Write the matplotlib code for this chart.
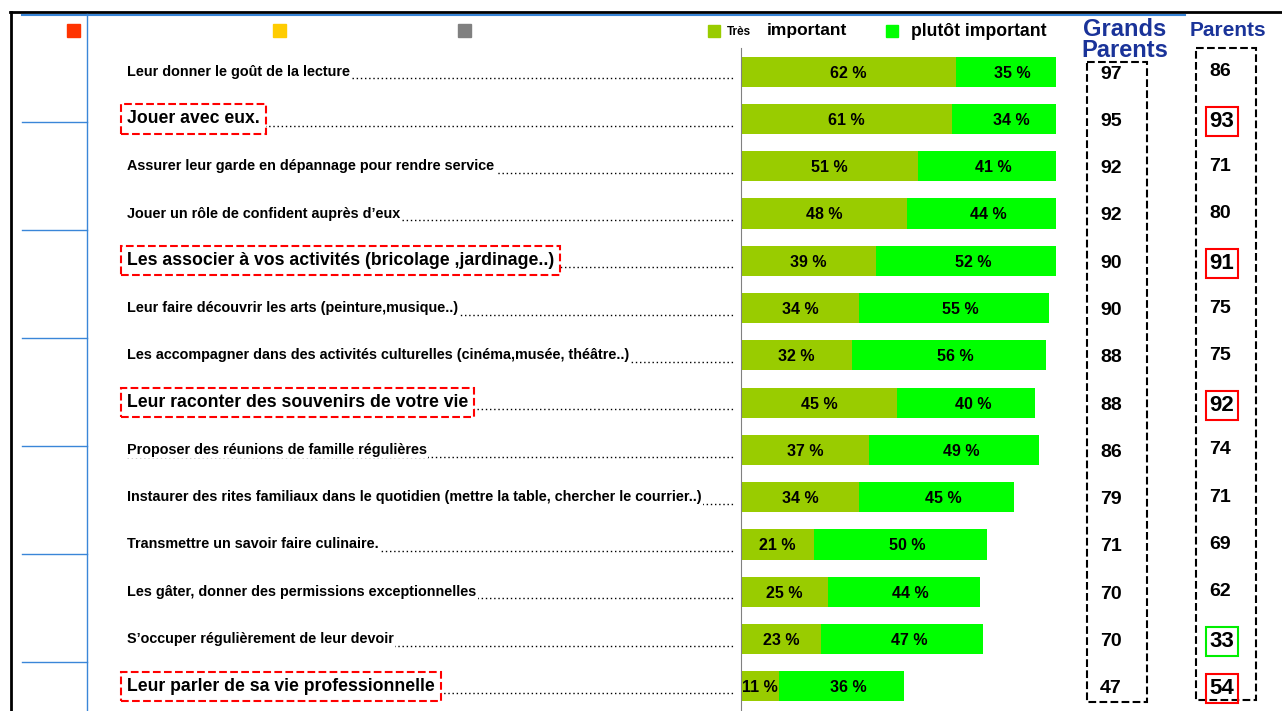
#grands parents vs parents : importance des roles
import numpy as np
import matplotlib.pyplot as plt
from matplotlib.transforms import blended_transform_factory
from matplotlib.patches import Rectangle

plt.rcParams['font.family'] = ['Liberation Sans', 'DejaVu Sans']

#data
labels = ["Leur donner le goût de la lecture",
          "Jouer avec eux.",
          "Assurer leur garde en dépannage pour rendre service",
          "Jouer un rôle de confident auprès d\u2019eux",
          "Les associer à vos activités (bricolage ,jardinage..)",
          "Leur faire découvrir les arts (peinture,musique..)",
          "Les accompagner dans des activités culturelles (cinéma,musée, théâtre..)",
          "Leur raconter des souvenirs de votre vie",
          "Proposer des réunions de famille régulières",
          "Instaurer des rites familiaux dans le quotidien (mettre la table, chercher le courrier..)",
          "Transmettre un savoir faire culinaire.",
          "Les gâter, donner des permissions exceptionnelles",
          "S\u2019occuper régulièrement de leur devoir",
          "Leur parler de sa vie professionnelle"]
tres_important = [62, 61, 51, 48, 39, 34, 32, 45, 37, 34, 21, 25, 23, 11]
plutot_important = [35, 34, 41, 44, 52, 55, 56, 40, 49, 45, 50, 44, 47, 36]
grands_parents = [97, 95, 92, 92, 90, 90, 88, 88, 86, 79, 71, 70, 70, 47]
parents = [86, 93, 71, 80, 91, 75, 75, 92, 74, 71, 69, 62, 33, 54]
highlighted = [1, 4, 7, 13]
parent_boxes = {1: 'red', 4: 'red', 7: 'red', 12: '#00ee00', 13: 'red'}

W, H = 1282, 711
fig = plt.figure(figsize=(W / 100, H / 100), dpi=100)

#overlay in pixel coords for frame, labels, columns
ov = fig.add_axes([0, 0, 1, 1], zorder=0)
ov.set_xlim(0, W)
ov.set_ylim(H, 0)
ov.axis('off')

#bar axes
ax = fig.add_axes([741 / W, 1 - 710 / H, (1056 - 741) / W, (710 - 48) / H], zorder=1)
ax.patch.set_alpha(0)
y = np.arange(len(labels))
ax.barh(y, tres_important, height=0.64, color='#99cc00')
ax.barh(y, plutot_important, left=tres_important, height=0.64, color='#00ff00')
ax.set_xlim(0, 91)
ax.set_ylim(13.5, -0.5)
for s in ['top', 'right', 'bottom']:
    ax.spines[s].set_visible(False)
ax.spines['left'].set_color('#808080')
ax.set_xticks([])
ax.set_yticks([])

for i in range(len(labels)):
    t = tres_important[i]
    p = plutot_important[i]
    ax.text(t / 2, i + 0.03, f'{t} %', ha='center', va='center', fontsize=11.5, fontweight='bold')
    ax.text((t + min(t + p, 91)) / 2 + 2, i + 0.03, f'{p} %', ha='center', va='center',
            fontsize=11.5, fontweight='bold')

trans = blended_transform_factory(ov.transData, ax.transData)

#labels with dotted leaders
for i, lab in enumerate(labels):
    ov.plot([127, 733], [i + 0.14, i + 0.14], transform=trans, color='black',
            lw=1, ls=(0, (1, 2)), zorder=1)
    if i in highlighted:
        ov.text(127, i, lab, transform=trans, fontsize=12.7, fontweight='bold', va='center', zorder=3,
                bbox=dict(facecolor='white', edgecolor='red', ls='--', lw=1.5, boxstyle='square,pad=0.35'))
    else:
        ov.text(127, i, lab, transform=trans, fontsize=10.4, fontweight='bold', va='center', zorder=3,
                bbox=dict(facecolor='white', edgecolor='none', boxstyle='square,pad=0.1'))

#grands parents / parents columns
for i in range(len(labels)):
    ov.text(1111, i + 0.05, str(grands_parents[i]), transform=trans, ha='center', va='center',
            fontsize=14, fontweight='bold')
    if i in parent_boxes:
        ov.text(1222, i + 0.05, str(parents[i]), transform=trans, ha='center', va='center',
                fontsize=16, fontweight='bold',
                bbox=dict(facecolor='none', edgecolor=parent_boxes[i], lw=1.5, boxstyle='square,pad=0.18'))
    else:
        ov.text(1220, i, str(parents[i]), transform=trans, ha='center', va='center',
                fontsize=14, fontweight='bold')

ov.add_patch(Rectangle((1087, 62), 60, 640, fill=False, ls='--', lw=1.5, ec='black'))
ov.add_patch(Rectangle((1196, 48), 60, 652, fill=False, ls='--', lw=1.5, ec='black'))

ov.text(1125, 40, 'Grands\nParents', ha='center', va='center', fontsize=17, fontweight='bold',
        color='#1a3399', linespacing=0.9, zorder=4)
ov.text(1228, 31, 'Parents', ha='center', va='center', fontsize=15, fontweight='bold',
        color='#1a3399')

#legend
ov.add_patch(Rectangle((708, 25), 12, 12, color='#99cc00'))
ov.text(727, 32, 'Très', fontsize=8.5, fontweight='bold', va='center')
ov.text(767, 31, 'important', fontsize=12.5, fontweight='bold', va='center')
ov.add_patch(Rectangle((886, 25), 12, 12, color='#00ff00'))
ov.text(911, 31, 'plutôt important', fontsize=12.7, fontweight='bold', va='center')

#small coloured squares
for xs, c in zip([67, 273, 458], ['#ff3300', '#ffcc00', '#808080']):
    ov.add_patch(Rectangle((xs, 24), 13, 13, color=c))

#frame
ov.plot([10, W], [12, 12], color='black', lw=2)
ov.plot([11, 11], [12, H], color='black', lw=2)
ov.plot([22, 1185], [14.5, 14.5], color='#3a86d8', lw=1.5)
ov.plot([87, 87], [14, H], color='#3a86d8', lw=1)
for yl in [122, 230, 338, 446, 554, 662]:
    ov.plot([22, 87], [yl, yl], color='#3a86d8', lw=1)

fig.savefig('out.png', dpi=100)
